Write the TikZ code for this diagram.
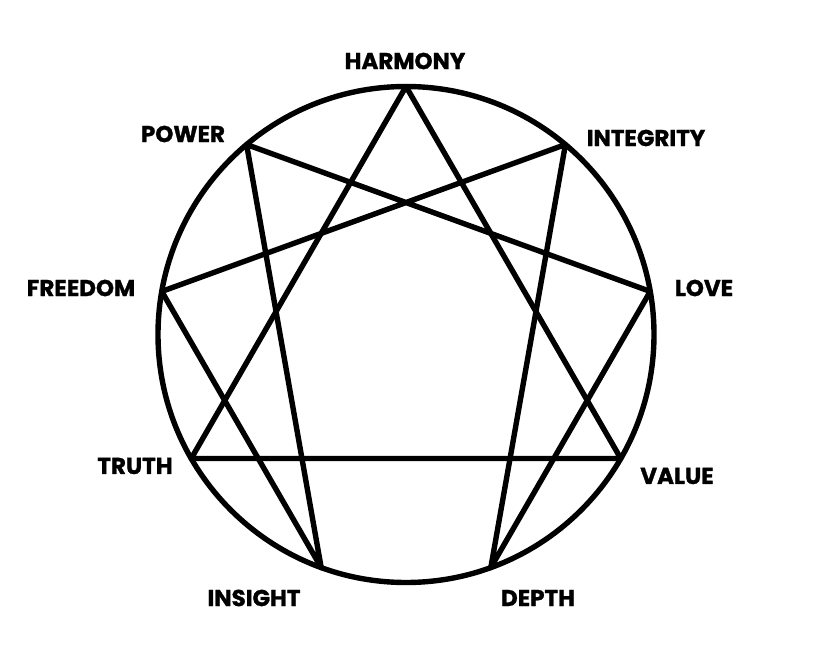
\documentclass[tikz,border=0pt]{standalone}
\usepackage{fontspec}
\setmainfont{Poppins}[BoldFont={* Bold}, BoldFeatures={FakeBold=1.2}]
\begin{document}
\begin{tikzpicture}[x=1pt,y=-1pt,
  lbl/.style={font=\fontsize{23}{23}\selectfont\bfseries, inner sep=0pt, anchor=center},
  ln/.style={line width=5.4pt, line join=round, line cap=round}]
\useasboundingbox (0,0) rectangle (825,655);
\def\cx{406}\def\cy{334.5}\def\R{248}
\draw[ln] (\cx,\cy) circle[radius=\R];
\foreach \i in {0,...,8}{
  \coordinate (p\i) at ({\cx+\R*sin(40*\i)},{\cy-\R*cos(40*\i)});
}
% triangle 9-3-6
\draw[ln] (p0) -- (p3) -- (p6) -- cycle;
% hexad 1-4-2-8-5-7-1
\draw[ln] (p1) -- (p4) -- (p2) -- (p8) -- (p5) -- (p7) -- cycle;
\node[lbl] (harmony) at (405,61) {HARMONY};
\node[lbl] (integrity) at (646,138) {INTEGRITY};
\node[lbl] (love) at (704,288) {LOVE};
\node[lbl] (value) at (677,476) {VALUE};
\node[lbl] (depth) at (538,598) {DEPTH};
\node[lbl] (insight) at (254,598) {INSIGHT};
\node[lbl] (truth) at (135,466) {TRUTH};
\node[lbl] (freedom) at (81,288) {FREEDOM};
\node[lbl] (power) at (183,134) {POWER};
\end{tikzpicture}
\end{document}
